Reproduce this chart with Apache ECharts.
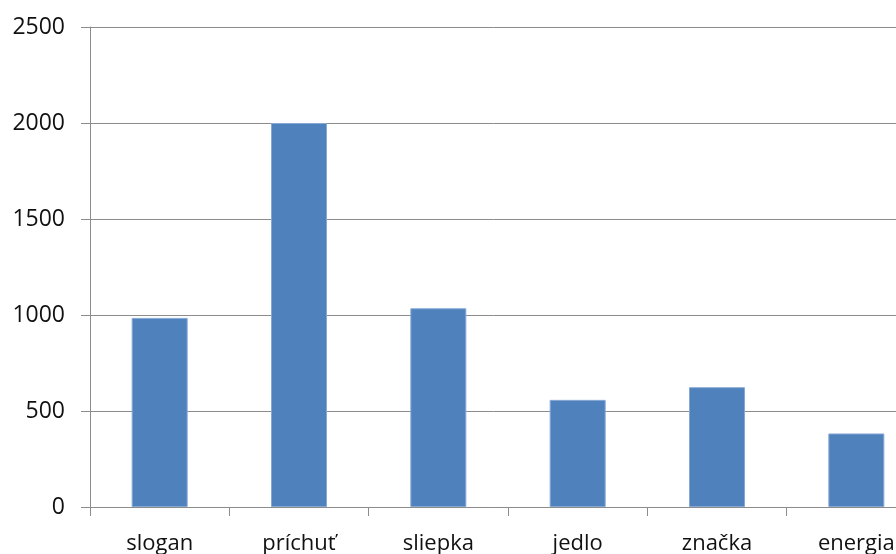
<!DOCTYPE html>
<html>
<head>
<meta charset="utf-8">
<script src="https://cdn.jsdelivr.net/npm/echarts@6/dist/echarts.min.js"></script>
<style>
  html, body { margin: 0; padding: 0; background: #fff; }
  #main { width: 896px; height: 554px; }
</style>
</head>
<body>
<div id="main"></div>
<script>
const categories = ['slogan', 'príchuť', 'sliepka', 'jedlo', 'značka', 'energia'];
const values = [985, 2000, 1035, 558, 624, 383];
const yTicks = [0, 500, 1000, 1500, 2000, 2500];

const chart = echarts.init(document.getElementById('main'));
const gray = '#8c8c8c';
chart.setOption({
  backgroundColor: '#fff',
  animation: false,
  // the original picture is cropped on the right, so the plot runs past the edge
  grid: { left: 90, top: 27, bottom: 47, right: -30, containLabel: false, outerBoundsMode: 'none' },
  xAxis: {
    type: 'category',
    data: categories,
    axisLine: { lineStyle: { color: gray, width: 1 } },
    axisTick: { show: true, length: 9, lineStyle: { color: gray } },
    axisLabel: { color: '#111', fontSize: 22, fontFamily: 'Open Sans', margin: 26 }
  },
  yAxis: {
    type: 'value',
    min: yTicks[0],
    max: yTicks[yTicks.length - 1],
    interval: 500,
    axisLine: { show: true, lineStyle: { color: gray } },
    axisTick: { show: true, length: 9, lineStyle: { color: gray } },
    axisLabel: { color: '#111', fontSize: 23, fontFamily: 'Open Sans', margin: 25, formatter: v => String(v) },
    splitLine: { lineStyle: { color: gray, width: 1 } }
  },
  series: [{
    type: 'bar',
    data: values,
    barWidth: 56,
    itemStyle: { color: '#4f81bd', borderColor: '#86a8d6', borderWidth: 1 }
  }]
});
</script>
</body>
</html>
